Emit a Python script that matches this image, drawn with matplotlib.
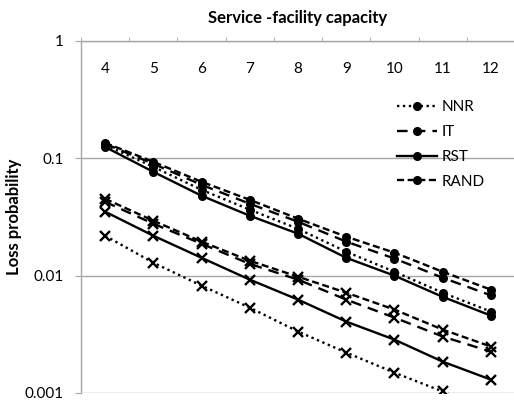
import matplotlib
matplotlib.use("Agg")
import matplotlib.pyplot as plt
from matplotlib.ticker import FixedLocator, NullFormatter

plt.rcParams['font.family'] = ['Lato', 'DejaVu Sans']

capacity = [4, 5, 6, 7, 8, 9, 10, 11, 12]

# loss probability, first scenario (circle markers)
nnr_a = [0.130, 0.0847, 0.0539, 0.0365, 0.0251, 0.0160, 0.0108, 0.00716, 0.00494]
it_a = [0.133, 0.0898, 0.0595, 0.0410, 0.0288, 0.0195, 0.0140, 0.0096, 0.0068]
rst_a = [0.125, 0.0767, 0.0480, 0.0324, 0.0228, 0.0142, 0.0100, 0.0066, 0.00457]
rand_a = [0.1355, 0.0934, 0.0631, 0.0443, 0.0306, 0.0215, 0.0157, 0.0108, 0.0076]

# loss probability, second scenario (cross markers)
nnr_b = [0.0219, 0.0129, 0.00822, 0.00534, 0.00334, 0.00221, 0.00149, 0.00103, 0.00070]
it_b = [0.0426, 0.0277, 0.0187, 0.0126, 0.00925, 0.00625, 0.00439, 0.00303, 0.00225]
rst_b = [0.0351, 0.0219, 0.0142, 0.00925, 0.00625, 0.00406, 0.00285, 0.00185, 0.0013]
rand_b = [0.0452, 0.0294, 0.0195, 0.0134, 0.0098, 0.00716, 0.00514, 0.00347, 0.00249]

y_ticks = [1, 0.1, 0.01, 0.001]
y_tick_labels = ["1", "0.1", "0.01", "0.001"]

styles = {
    "NNR": (0, (1, 1.5)),
    "IT": (0, (4.5, 3)),
    "RST": "-",
    "RAND": (0, (3, 1.5)),
}

fig = plt.figure(figsize=(5.14, 4.08), dpi=100)
ax = fig.add_axes([81 / 514, 1 - 393 / 408, 434 / 514, 352 / 408])

series_a = [("NNR", nnr_a), ("IT", it_a), ("RST", rst_a), ("RAND", rand_a)]
series_b = [("NNR", nnr_b), ("IT", it_b), ("RST", rst_b), ("RAND", rand_b)]

for name, vals in series_a:
    ax.plot(capacity, vals, color="black", linestyle=styles[name], linewidth=1.7,
            marker="o", markersize=5.5, label=name, clip_on=True)
for name, vals in series_b:
    ax.plot(capacity, vals, color="black", linestyle=styles[name], linewidth=1.7,
            marker="x", markersize=6.5, markeredgewidth=1.7, clip_on=True)

ax.set_yscale("log")
ax.set_ylim(0.001, 1)
ax.set_xlim(3.5, 12.5)

ax.yaxis.set_major_locator(FixedLocator(y_ticks))
ax.set_yticklabels(y_tick_labels)
ax.yaxis.set_minor_locator(FixedLocator([]))
ax.yaxis.set_minor_formatter(NullFormatter())
ax.grid(axis="y", which="major", color="#a6a6a6", linewidth=1.0)
ax.set_axisbelow(True)

ax.set_xticks(capacity)
ax.set_xticklabels([str(c) for c in capacity])
ax.xaxis.set_minor_locator(FixedLocator([c + 0.5 for c in [3] + capacity]))
ax.tick_params(axis="x", which="major", top=True, labeltop=True, bottom=False,
               labelbottom=False, length=0, pad=-25, labelsize=11)
ax.tick_params(axis="x", which="minor", top=True, bottom=False, direction="out",
               length=3, color="#a6a6a6")
ax.tick_params(axis="y", which="major", direction="out", length=4.5, color="#a6a6a6",
               labelsize=11, pad=8)

for side in ("right", "bottom"):
    ax.spines[side].set_visible(False)
for side in ("top", "left"):
    ax.spines[side].set_color("#a6a6a6")
    ax.spines[side].set_linewidth(1.0)

ax.set_title("Service -facility capacity", fontsize=12, fontweight="bold", pad=13)
ax.set_ylabel("Loss probability", fontsize=12, fontweight="bold", labelpad=2)

ax.legend(loc="upper left", bbox_to_anchor=(0.728, 0.831), frameon=False,
          fontsize=11, handlelength=2.6, handletextpad=0.3, labelspacing=0.7,
          borderpad=0, borderaxespad=0)

fig.savefig("out.png", dpi=100)
